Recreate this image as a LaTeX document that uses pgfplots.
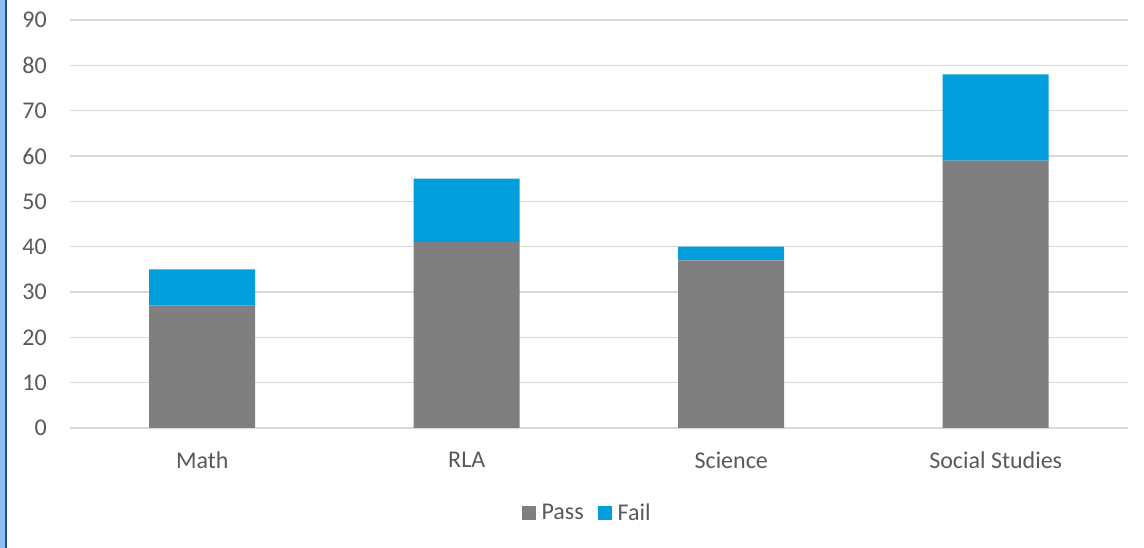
\documentclass[border=0pt]{standalone}
\usepackage{fontspec}
\setmainfont{Carlito}
\usepackage{pgfplots}
\pgfplotsset{compat=1.18}
\usetikzlibrary{calc}
\definecolor{passgray}{RGB}{127,127,127}
\definecolor{failblue}{RGB}{0,158,218}
\definecolor{gridgray}{RGB}{217,217,217}
\definecolor{labelgray}{RGB}{89,89,89}
\definecolor{frameblue}{RGB}{140,190,240}
\definecolor{framedark}{RGB}{31,78,140}
\begin{document}
\begin{tikzpicture}[x=1pt,y=1pt]
\begin{axis}[
  scale only axis, width=1058pt, height=408pt,
  ybar stacked, bar width=106pt,
  xmin=-0.5, xmax=3.5, ymin=0, ymax=90,
  xtick={0,1,2,3},
  xticklabels={Math,RLA,Science,Social Studies},
  ytick={0,10,...,90},
  axis line style={draw=none},
  major tick length=0pt,
  ymajorgrids, grid style={gridgray, line width=1.5pt},
  tick label style={font=\fontsize{24}{28}\selectfont, text=labelgray},
  /pgf/number format/assume math mode=true,
  yticklabel style={anchor=east, inner sep=0pt, xshift=-23pt},
  xticklabel style={anchor=center, inner sep=0pt, yshift=-32pt},
  legend style={at={(0.4887,-0.2083)}, anchor=center, draw=none, fill=none,
    legend columns=2, font=\fontsize{24}{28}\selectfont, text=labelgray,
    /tikz/every even column/.append style={column sep=12pt}},
  legend image code/.code={\fill[#1] (0pt,-7pt) rectangle (14pt,7pt);
    \path (0pt,0pt) -- (18pt,0pt);},
]
\addplot[fill=passgray, draw=none] coordinates {(0,27) (1,41) (2,37) (3,59)};
\addplot[fill=failblue, draw=none] coordinates {(0,8) (1,14) (2,3) (3,19)};
\legend{Pass,Fail}
\coordinate (o) at (rel axis cs:0,0);
\end{axis}
% frame edge on the left of the page
\fill[frameblue] ($(o)+(-70,-120)$) rectangle ++(5,548);
\fill[framedark] ($(o)+(-65,-120)$) rectangle ++(2,548);
\pgfresetboundingbox
\path[use as bounding box] ($(o)+(-70,-120)$) rectangle ++(1144,548);
\end{tikzpicture}
\end{document}
